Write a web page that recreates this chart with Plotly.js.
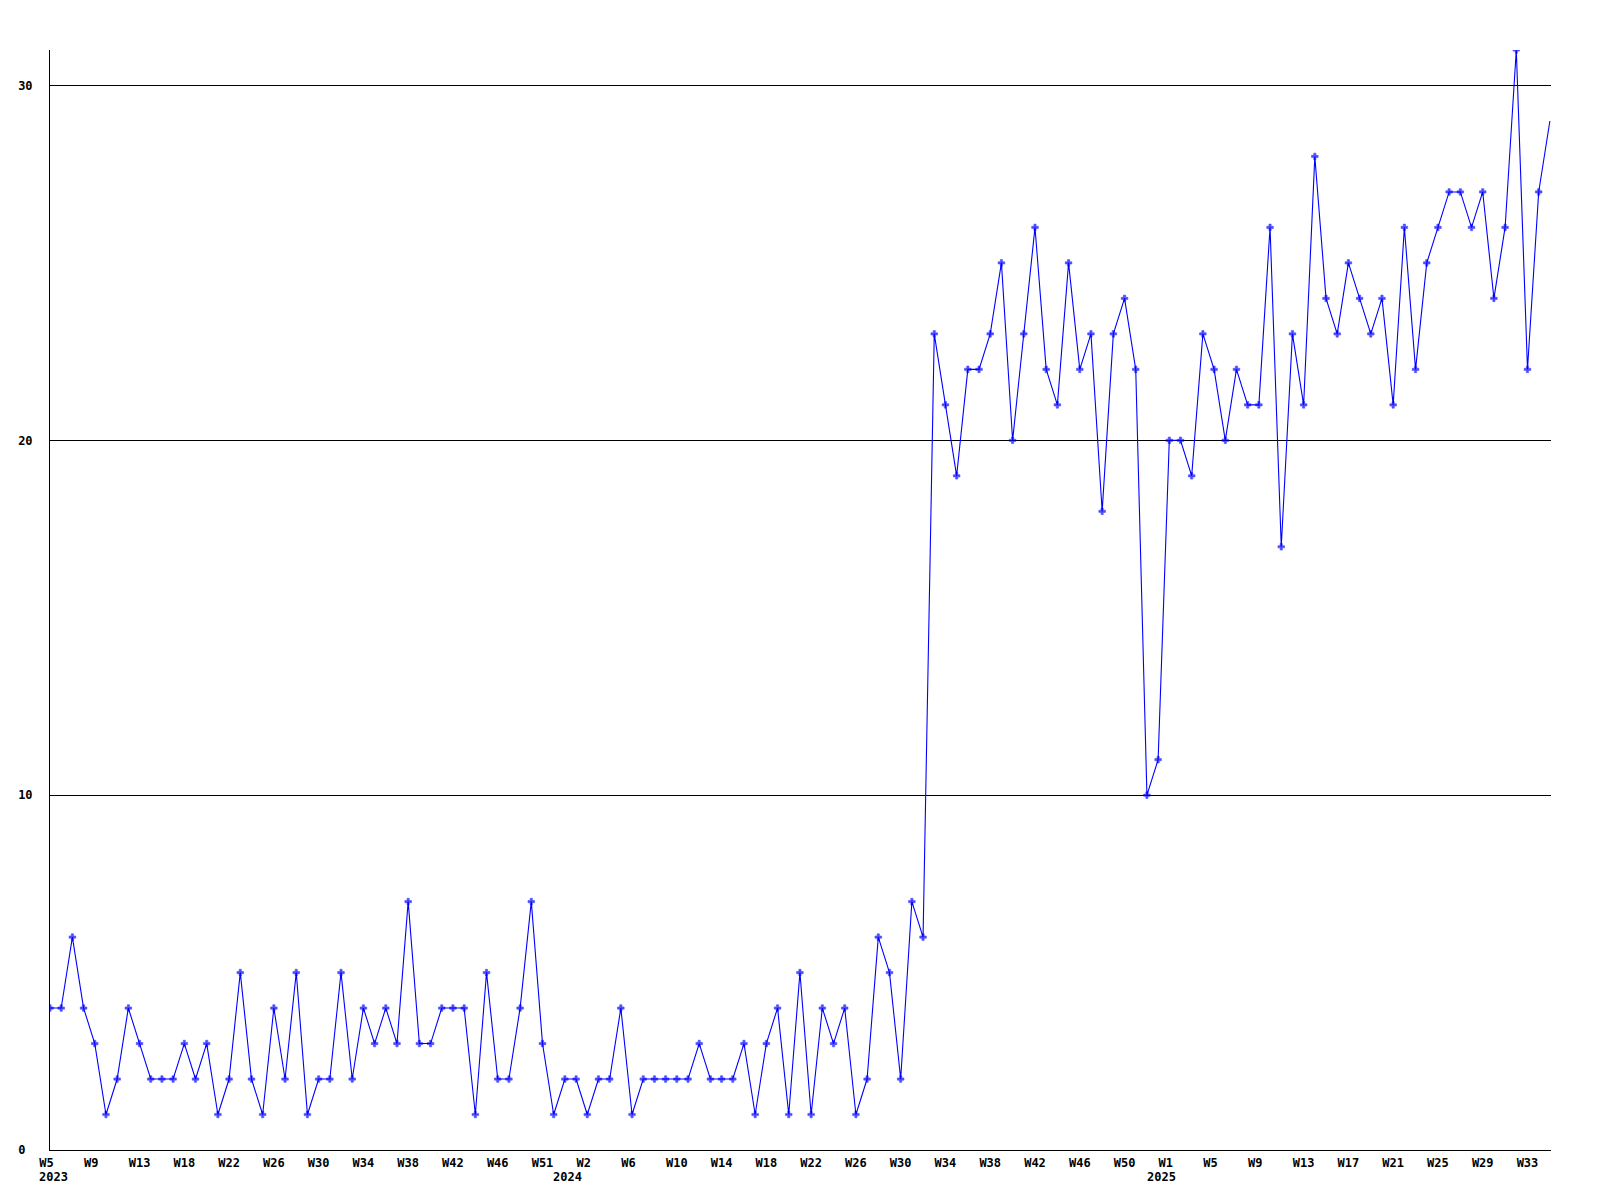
<!DOCTYPE html>
<html>
<head>
<meta charset="utf-8">
<script src="https://cdn.plot.ly/plotly-3.0.1.min.js"></script>
<style>
  html, body { margin: 0; padding: 0; background: #ffffff; }
  #chart { width: 1600px; height: 1200px; }
</style>
</head>
<body>
<div id="chart"></div>
<script>
// Weekly counts, starting at week 5 of 2023 (one value per week)
const values = [
  4,4,6,4,3,1,2,4,3,2,2,2,3,2,3,1,2,5,2,1,4,2,5,1,2,2,5,2,4,3,4,3,7,3,3,4,4,4,1,5,2,2,4,7,3,1,2,2,
  1,2,2,4,1,2,2,2,2,2,3,2,2,2,3,1,3,4,1,5,1,4,3,4,1,2,6,5,2,7,6,23,21,19,22,22,23,25,20,23,26,22,21,25,22,23,18,23,24,22,10,
  11,20,20,19,23,22,20,22,21,21,26,17,23,21,28,24,23,25,24,23,24,21,26,22,25,26,27,27,26,27,24,26,31,22,27,29
];

// x tick labels, one every fourth week
const weekTicks = [
  "W5","W9","W13","W18","W22","W26","W30","W34","W38","W42","W46","W51",
  "W2","W6","W10","W14","W18","W22","W26","W30","W34","W38","W42","W46","W50",
  "W1","W5","W9","W13","W17","W21","W25","W29","W33"
];

// year labels and the week position where each year label sits
const yearLabels = ["2023", "2024", "2025"];
const yearAt = [0.3, 46.2, 99.3];

// y ticks
const yTicks = [0, 10, 20, 30];

const NBSP = "\u00A0";
const xIdx = values.map((_, i) => i);
const tickvals = weekTicks.map((_, i) => i * 4);
const ticktext = weekTicks.map(t => t.length < 3 ? t + NBSP : t);
const ytext = yTicks.map(v => { const s = String(v); return s.length < 2 ? s + NBSP : s; });
const markerSizes = values.map((_, i) => i === values.length - 1 ? 0 : 5.5);

const tickFont = { family: "DejaVu Sans Mono, monospace", size: 12, color: "#000000", weight: "bold" };

const trace = {
  x: xIdx,
  y: values,
  type: "scatter",
  mode: "lines+markers",
  line: { color: "rgb(0,0,255)", width: 1.1 },
  marker: { symbol: "cross", size: markerSizes, color: "rgb(0,0,255)", line: { width: 0.6, color: "rgb(0,0,255)" } },
  cliponaxis: true,
  hoverinfo: "skip"
};

const annotations = yearLabels.map((t, i) => ({
  text: t,
  x: yearAt[i],
  xref: "x",
  y: -0.0245,
  yref: "paper",
  xanchor: "center",
  yanchor: "middle",
  showarrow: false,
  font: tickFont
}));

const layout = {
  width: 1600,
  height: 1200,
  margin: { l: 50, r: 49, t: 50, b: 50, pad: 0 },
  paper_bgcolor: "#ffffff",
  plot_bgcolor: "#ffffff",
  showlegend: false,
  hovermode: false,
  xaxis: {
    range: [0, 134.1],
    tickmode: "array",
    tickvals: tickvals,
    ticktext: ticktext,
    ticks: "",
    showgrid: false,
    zeroline: false,
    showline: true,
    linecolor: "#000000",
    linewidth: 1,
    tickfont: tickFont,
    tickangle: 0,
    ticklabelstandoff: 2
  },
  yaxis: {
    range: [0, 31],
    tickmode: "array",
    tickvals: yTicks,
    ticktext: ytext,
    ticks: "",
    showgrid: true,
    gridcolor: "#000000",
    gridwidth: 1,
    zeroline: false,
    showline: true,
    linecolor: "#000000",
    linewidth: 1,
    tickfont: tickFont,
    ticklabelstandoff: 14
  },
  annotations: annotations
};

Plotly.newPlot("chart", [trace], layout, { staticPlot: true, displayModeBar: false });
</script>
</body>
</html>
